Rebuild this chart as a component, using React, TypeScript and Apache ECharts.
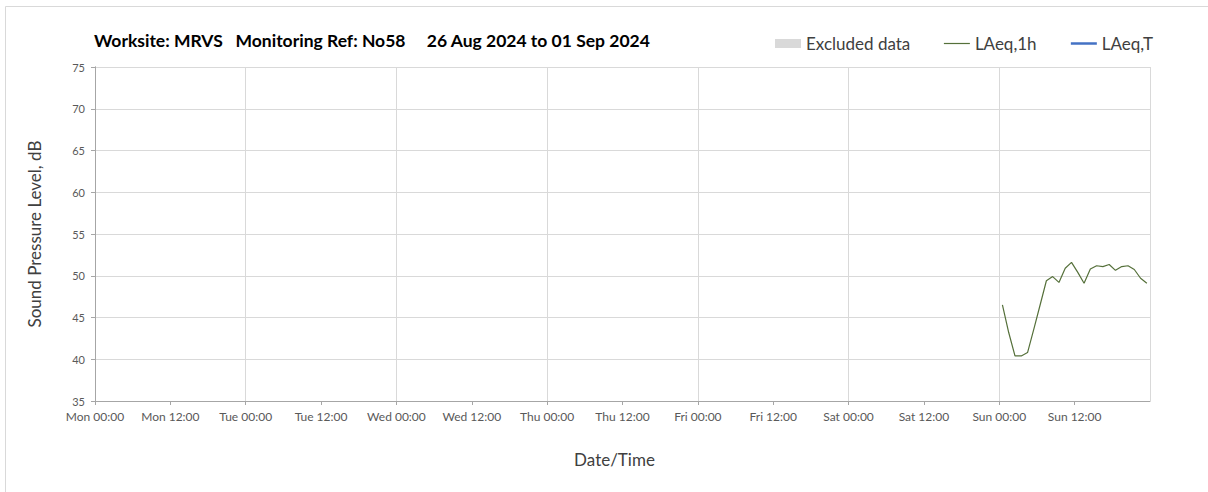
import React, { useEffect, useRef } from "react";
import * as echarts from "echarts";

// Week start (Mon 26 Aug 2024 00:00) and end
const weekStart = "2024-08-26T00:00:00";
const dayNames = ["Mon", "Tue", "Wed", "Thu", "Fri", "Sat", "Sun"];
const halfDayLabels = ["00:00", "12:00"];

// Hourly LAeq,1h measurements (centred on each hour) on Sun 01 Sep 2024
const times1h = [
  "2024-09-01T00:30:00", "2024-09-01T01:30:00", "2024-09-01T02:30:00", "2024-09-01T03:30:00",
  "2024-09-01T04:30:00", "2024-09-01T05:30:00", "2024-09-01T06:30:00", "2024-09-01T07:30:00",
  "2024-09-01T08:30:00", "2024-09-01T09:30:00", "2024-09-01T10:30:00", "2024-09-01T11:30:00",
  "2024-09-01T12:30:00", "2024-09-01T13:30:00", "2024-09-01T14:30:00", "2024-09-01T15:30:00",
  "2024-09-01T16:30:00", "2024-09-01T17:30:00", "2024-09-01T18:30:00", "2024-09-01T19:30:00",
  "2024-09-01T20:30:00", "2024-09-01T21:30:00", "2024-09-01T22:30:00", "2024-09-01T23:30:00",
];
const laeq1h = [
  46.5, 43.2, 40.4, 40.4, 40.8, 43.6, 46.5, 49.4, 49.9, 49.2, 50.9, 51.6,
  50.4, 49.1, 50.8, 51.2, 51.1, 51.35, 50.65, 51.1, 51.2, 50.75, 49.7, 49.1,
];
const laeqT: [number, number][] = [];
const excluded: [number, number][] = [];

const titleText = "Worksite: MRVS   Monitoring Ref: No58     26 Aug 2024 to 01 Sep 2024";

const FONT = "Lato";

export default function App() {
  const ref = useRef<HTMLDivElement>(null);
  useEffect(() => {
    document.body.style.margin = "0";
    if (!ref.current) return;
    const chart = echarts.init(ref.current, null, { renderer: "svg" });
    const t0 = Date.parse(weekStart);
    const toHours = (t: string) => (Date.parse(t) - t0) / 3600000;
    const data1h = times1h.map((t, i) => [toHours(t), laeq1h[i]]);

    chart.setOption({
      animation: false,
      backgroundColor: "#ffffff",
      textStyle: { fontFamily: FONT },
      graphic: [
        {
          type: "rect",
          shape: { x: 5.5, y: 6.5, width: 1220, height: 520 },
          style: { fill: "none", stroke: "#d9d9d9", lineWidth: 1 },
          silent: true,
        },
      ],
      title: {
        text: titleText,
        left: 89,
        top: 26,
        textStyle: { fontFamily: FONT, fontSize: 17.5, fontWeight: "bold", color: "#000000" },
      },
      legend: {
        left: 770,
        top: 30,
        itemWidth: 26,
        itemHeight: 9,
        itemGap: 33,
        textStyle: { fontFamily: FONT, fontSize: 17, color: "#404040" },
        data: [
          { name: "Excluded data", icon: "rect" },
          { name: "LAeq,1h", itemStyle: { opacity: 0 }, lineStyle: { width: 1.2, color: "#55703a" } },
          { name: "LAeq,T", itemStyle: { opacity: 0 }, lineStyle: { width: 2.5, color: "#4472c4" } },
        ],
      },
      grid: { left: 95, right: 58, top: 67, bottom: 91 },
      xAxis: [
        {
          type: "value",
          min: 0,
          max: 168,
          interval: 12,
          name: "Date/Time",
          nameLocation: "middle",
          nameGap: 50,
          nameTextStyle: { fontFamily: FONT, fontSize: 17, color: "#404040", padding: [0, 16, 0, 0] },
          axisLine: { show: true, lineStyle: { color: "#a6a6a6", width: 1 } },
          axisTick: { show: true, length: 4, lineStyle: { color: "#a6a6a6" } },
          splitLine: { show: false },
          axisLabel: {
            showMaxLabel: false,
            margin: 9,
            fontSize: 12,
            color: "#595959",
            formatter: (v: number) =>
              dayNames[Math.floor(v / 24) % 7] + " " + halfDayLabels[(v % 24) / 12],
          },
        },
        {
          type: "value",
          min: 0,
          max: 168,
          interval: 24,
          position: "bottom",
          axisLine: { show: false },
          axisTick: { show: false },
          axisLabel: { show: false },
          splitLine: { show: true, lineStyle: { color: "#d9d9d9", width: 1 } },
        },
      ],
      yAxis: [
        {
          type: "value",
          min: 35,
          max: 75,
          interval: 5,
          name: "Sound Pressure Level, dB",
          nameLocation: "middle",
          nameGap: 52,
          nameTextStyle: { fontFamily: FONT, fontSize: 17, color: "#404040" },
          axisLine: { show: true, lineStyle: { color: "#a6a6a6", width: 1 } },
          axisTick: { show: true, length: 4, lineStyle: { color: "#a6a6a6" } },
          splitLine: { show: true, lineStyle: { color: "#d9d9d9", width: 1 } },
          axisLabel: { fontSize: 11, color: "#595959", margin: 10 },
        },
        {
          type: "value",
          min: 35,
          max: 75,
          interval: 5,
          position: "right",
          axisLine: { show: true, lineStyle: { color: "#a6a6a6", width: 1 } },
          axisTick: { show: false },
          axisLabel: { show: false },
          splitLine: { show: false },
        },
      ],
      series: [
        {
          name: "Excluded data",
          type: "bar",
          xAxisIndex: 0,
          yAxisIndex: 0,
          data: excluded,
          itemStyle: { color: "#d9d9d9" },
        },
        {
          name: "LAeq,1h",
          type: "line",
          xAxisIndex: 0,
          yAxisIndex: 0,
          data: data1h,
          symbol: "none",
          lineStyle: { color: "#55703a", width: 1.2 },
          itemStyle: { color: "#55703a" },
        },
        {
          name: "LAeq,T",
          type: "line",
          xAxisIndex: 0,
          yAxisIndex: 0,
          data: laeqT,
          symbol: "none",
          lineStyle: { color: "#4472c4", width: 2.5 },
          itemStyle: { color: "#4472c4" },
        },
      ],
    });
    return () => chart.dispose();
  }, []);
  return <div ref={ref} style={{ width: 1208, height: 492 }} />;
}
